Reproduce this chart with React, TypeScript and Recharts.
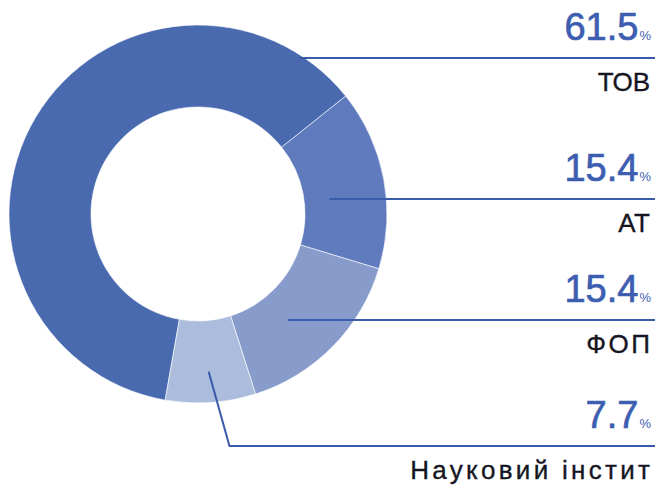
import React from "react";
import { PieChart, Pie, Cell } from "recharts";

const categories = ["ТОВ", "АТ", "ФОП", "Науковий інстит"];
const shares = [61.5, 15.4, 15.4, 7.7];

const colors = ["#4a6ab0", "#5f7bbd", "#889ccc", "#abbcdd"];
const rowY = [58, 199, 320, 446];
const anchorKind = ["edge", "flat", "flat", "elbow"];
const anchorR = [186, 134, 126, 158];
const labelSpacing = [0, 0.5, 2.5, 3.3];

const data = categories.map((name, i) => ({ name, value: shares[i] }));

const LINE = "#3b5bab";
const VALUE = "#3d5eb0";
const LABEL = "#15161f";
const RIGHT = 655;
const TEXT_RIGHT = 651;
const FONT = "'Liberation Sans', Arial, sans-serif";
const RAD = Math.PI / 180;

const renderLabel = (props: any) => {
  const { cx, cy, midAngle, index } = props;
  const y = rowY[index];
  const kind = anchorKind[index];
  const r = anchorR[index];
  let path = "";
  if (kind === "edge") {
    const x0 = cx + Math.sqrt(r * r - (y - cy) * (y - cy));
    path = `M${x0},${y}L${RIGHT},${y}`;
  } else if (kind === "flat") {
    const ax = cx + r * Math.cos(-midAngle * RAD);
    path = `M${ax},${y}L${RIGHT},${y}`;
  } else {
    const ax = cx + r * Math.cos(-midAngle * RAD);
    const ay = cy + r * Math.sin(-midAngle * RAD);
    const ex = ax + (y - ay) * 0.28;
    path = `M${ax},${ay}L${ex},${y}L${RIGHT},${y}`;
  }
  const ls = labelSpacing[index];
  return (
    <g key={`lbl-${index}`}>
      <path d={path} stroke={LINE} strokeWidth={2} fill="none" />
      <text x={TEXT_RIGHT} y={y - 18} textAnchor="end" fontFamily={FONT} fill={VALUE}>
        <tspan fontSize={38} stroke={VALUE} strokeWidth={0.7}>{shares[index].toFixed(1)}</tspan>
        <tspan fontSize={13} dx={1}>%</tspan>
      </text>
      <text
        x={TEXT_RIGHT - 1 + ls}
        y={y + 33}
        textAnchor="end"
        fontFamily={FONT}
        fontSize={26}
        letterSpacing={ls}
        fill={LABEL}
        stroke={LABEL}
        strokeWidth={0.35}
      >
        {categories[index]}
      </text>
    </g>
  );
};

export default function App() {
  return (
    <div style={{ position: "absolute", left: 0, top: 0, width: 655, height: 485, background: "#fff" }}>
      <PieChart width={655} height={485} margin={{ top: 0, right: 0, bottom: 0, left: 0 }}>
        <Pie
          data={data}
          dataKey="value"
          nameKey="name"
          cx={198}
          cy={214}
          innerRadius={107}
          outerRadius={189}
          startAngle={-100}
          endAngle={-460}
          stroke="#ffffff"
          strokeWidth={0.6}
          label={renderLabel}
          labelLine={false}
          isAnimationActive={false}
        >
          {data.map((d, i) => (
            <Cell key={d.name} fill={colors[i]} />
          ))}
        </Pie>
      </PieChart>
    </div>
  );
}
